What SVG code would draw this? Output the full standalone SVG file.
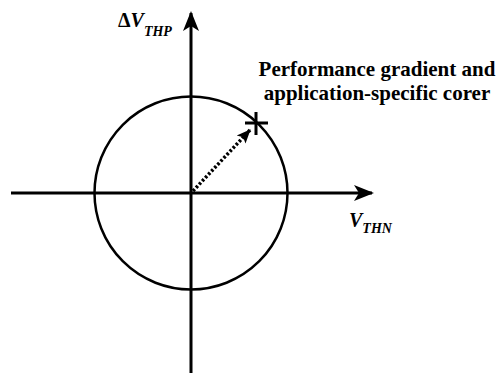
<svg xmlns="http://www.w3.org/2000/svg" width="499" height="373" viewBox="0 0 499 373">
<style>
.ax{stroke:#000;stroke-width:3;fill:none}
.t{font-family:"Liberation Serif","Times New Roman",serif;font-weight:bold;fill:#000}
.i{font-style:italic}
</style>
<defs>
<marker id="ah" viewBox="0 0 20 20" refX="18" refY="10" markerWidth="20" markerHeight="20" markerUnits="userSpaceOnUse" orient="auto">
<path d="M0,2 L20,10 L0,18 L5,10 Z" fill="#000"/>
</marker>
<marker id="ah2" viewBox="0 0 14 14" refX="13" refY="7" markerWidth="14" markerHeight="14" markerUnits="userSpaceOnUse" orient="auto">
<path d="M0,1 L14,7 L0,13 L3,7 Z" fill="#000"/>
</marker>
</defs>
<g id="connectors">
<line class="ax" x1="191" y1="373" x2="191" y2="13" marker-end="url(#ah)"/>
<line class="ax" x1="11" y1="193" x2="372" y2="193" marker-end="url(#ah)"/>
<line x1="193" y1="191" x2="250" y2="130" stroke="#000" stroke-width="3.5" stroke-dasharray="2.5 2" marker-end="url(#ah2)"/>
</g>
<g id="circle">
<circle cx="191" cy="193" r="96.5" fill="none" stroke="#000" stroke-width="2.5"/>
</g>
<g id="star">
<path d="M256,112 V135 M245,123 H268" stroke="#000" stroke-width="3"/>
</g>
<g id="labels">
<text class="t" x="118" y="27" font-size="20">Δ<tspan class="i">V</tspan><tspan class="i" font-size="14" dy="9">THP</tspan></text>
<text class="t i" x="349" y="227" font-size="20">V<tspan font-size="14" dy="6">THN</tspan></text>
<text class="t" x="377" y="76" font-size="21" text-anchor="middle">Performance gradient and</text>
<text class="t" x="377" y="100" font-size="21" text-anchor="middle">application-specific corer</text>
</g>
</svg>
